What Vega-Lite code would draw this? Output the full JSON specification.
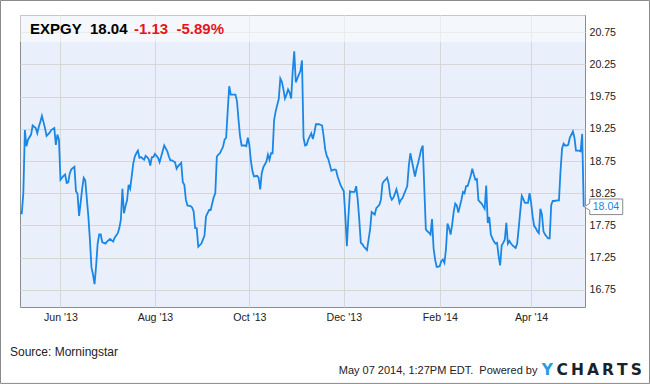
{
  "$schema": "https://vega.github.io/schema/vega-lite/v6.json",
  "width": 565,
  "height": 292,
  "autosize": {"type": "none"},
  "padding": {"left": 20, "top": 15, "right": 65, "bottom": 77},
  "background": "white",
  "config": {
    "view": {"fill": "#E9F0FB", "stroke": "#8c8c8c", "strokeWidth": 1},
    "font": "Liberation Sans"
  },
  "datasets": {
    "prices": [
      {"date": "2013-05-06", "price": 17.94}, {"date": "2013-05-07", "price": 17.94}, {"date": "2013-05-08", "price": 18.25},
      {"date": "2013-05-09", "price": 19.23}, {"date": "2013-05-10", "price": 18.98}, {"date": "2013-05-11", "price": 19.08},
      {"date": "2013-05-13", "price": 19.16}, {"date": "2013-05-14", "price": 19.30}, {"date": "2013-05-16", "price": 19.26},
      {"date": "2013-05-17", "price": 19.18}, {"date": "2013-05-18", "price": 19.28}, {"date": "2013-05-19", "price": 19.36},
      {"date": "2013-05-20", "price": 19.45}, {"date": "2013-05-22", "price": 19.26}, {"date": "2013-05-23", "price": 19.14},
      {"date": "2013-05-25", "price": 19.19}, {"date": "2013-05-26", "price": 19.23}, {"date": "2013-05-28", "price": 19.26},
      {"date": "2013-05-29", "price": 19.00}, {"date": "2013-05-30", "price": 19.16}, {"date": "2013-05-31", "price": 19.08},
      {"date": "2013-06-01", "price": 18.46}, {"date": "2013-06-02", "price": 18.49}, {"date": "2013-06-03", "price": 18.52},
      {"date": "2013-06-04", "price": 18.54}, {"date": "2013-06-05", "price": 18.41}, {"date": "2013-06-06", "price": 18.42},
      {"date": "2013-06-07", "price": 18.56}, {"date": "2013-06-08", "price": 18.62}, {"date": "2013-06-10", "price": 18.66},
      {"date": "2013-06-11", "price": 18.28}, {"date": "2013-06-12", "price": 18.24}, {"date": "2013-06-13", "price": 17.90},
      {"date": "2013-06-14", "price": 18.10}, {"date": "2013-06-15", "price": 18.32}, {"date": "2013-06-16", "price": 18.49},
      {"date": "2013-06-17", "price": 18.45}, {"date": "2013-06-19", "price": 17.89}, {"date": "2013-06-20", "price": 17.53},
      {"date": "2013-06-21", "price": 17.10}, {"date": "2013-06-22", "price": 16.99}, {"date": "2013-06-23", "price": 16.84},
      {"date": "2013-06-24", "price": 17.12}, {"date": "2013-06-25", "price": 17.47}, {"date": "2013-06-26", "price": 17.61},
      {"date": "2013-06-27", "price": 17.61}, {"date": "2013-06-28", "price": 17.49}, {"date": "2013-06-29", "price": 17.48},
      {"date": "2013-06-30", "price": 17.47}, {"date": "2013-07-01", "price": 17.50}, {"date": "2013-07-03", "price": 17.54},
      {"date": "2013-07-05", "price": 17.50}, {"date": "2013-07-06", "price": 17.56}, {"date": "2013-07-08", "price": 17.63},
      {"date": "2013-07-09", "price": 17.71}, {"date": "2013-07-10", "price": 17.84}, {"date": "2013-07-11", "price": 18.32},
      {"date": "2013-07-12", "price": 17.94}, {"date": "2013-07-13", "price": 18.05}, {"date": "2013-07-14", "price": 18.14},
      {"date": "2013-07-15", "price": 18.38}, {"date": "2013-07-16", "price": 18.32}, {"date": "2013-07-17", "price": 18.51},
      {"date": "2013-07-18", "price": 18.71}, {"date": "2013-07-19", "price": 18.82}, {"date": "2013-07-20", "price": 18.87},
      {"date": "2013-07-21", "price": 18.91}, {"date": "2013-07-22", "price": 18.80}, {"date": "2013-07-23", "price": 18.81},
      {"date": "2013-07-25", "price": 18.77}, {"date": "2013-07-26", "price": 18.83}, {"date": "2013-07-27", "price": 18.81},
      {"date": "2013-07-28", "price": 18.78}, {"date": "2013-07-29", "price": 18.68}, {"date": "2013-07-30", "price": 18.81},
      {"date": "2013-07-31", "price": 18.81}, {"date": "2013-08-01", "price": 18.86}, {"date": "2013-08-03", "price": 18.80},
      {"date": "2013-08-04", "price": 18.73}, {"date": "2013-08-06", "price": 18.90}, {"date": "2013-08-07", "price": 18.99},
      {"date": "2013-08-09", "price": 18.90}, {"date": "2013-08-10", "price": 18.82}, {"date": "2013-08-11", "price": 18.76},
      {"date": "2013-08-12", "price": 18.76}, {"date": "2013-08-14", "price": 18.73}, {"date": "2013-08-15", "price": 18.63},
      {"date": "2013-08-16", "price": 18.67}, {"date": "2013-08-18", "price": 18.72}, {"date": "2013-08-19", "price": 18.42},
      {"date": "2013-08-20", "price": 18.38}, {"date": "2013-08-21", "price": 18.15}, {"date": "2013-08-22", "price": 18.06},
      {"date": "2013-08-24", "price": 18.05}, {"date": "2013-08-25", "price": 18.03}, {"date": "2013-08-26", "price": 17.97},
      {"date": "2013-08-27", "price": 17.71}, {"date": "2013-08-28", "price": 17.71}, {"date": "2013-08-29", "price": 17.42},
      {"date": "2013-08-31", "price": 17.47}, {"date": "2013-09-01", "price": 17.53}, {"date": "2013-09-02", "price": 17.59},
      {"date": "2013-09-03", "price": 17.89}, {"date": "2013-09-05", "price": 17.99}, {"date": "2013-09-06", "price": 17.99},
      {"date": "2013-09-07", "price": 18.09}, {"date": "2013-09-08", "price": 18.19}, {"date": "2013-09-09", "price": 18.25},
      {"date": "2013-09-10", "price": 18.82}, {"date": "2013-09-11", "price": 18.85}, {"date": "2013-09-12", "price": 18.87},
      {"date": "2013-09-14", "price": 18.97}, {"date": "2013-09-15", "price": 19.08}, {"date": "2013-09-16", "price": 19.11},
      {"date": "2013-09-17", "price": 19.52}, {"date": "2013-09-18", "price": 19.91}, {"date": "2013-09-19", "price": 19.78},
      {"date": "2013-09-20", "price": 19.78}, {"date": "2013-09-21", "price": 19.78}, {"date": "2013-09-22", "price": 19.78},
      {"date": "2013-09-23", "price": 19.68}, {"date": "2013-09-24", "price": 19.39}, {"date": "2013-09-25", "price": 19.13},
      {"date": "2013-09-26", "price": 18.99}, {"date": "2013-09-28", "price": 18.99}, {"date": "2013-09-29", "price": 18.98},
      {"date": "2013-09-30", "price": 19.11}, {"date": "2013-10-01", "price": 19.00}, {"date": "2013-10-02", "price": 18.75},
      {"date": "2013-10-03", "price": 18.59}, {"date": "2013-10-04", "price": 18.51}, {"date": "2013-10-06", "price": 18.52},
      {"date": "2013-10-07", "price": 18.49}, {"date": "2013-10-08", "price": 18.31}, {"date": "2013-10-09", "price": 18.56},
      {"date": "2013-10-10", "price": 18.65}, {"date": "2013-10-12", "price": 18.74}, {"date": "2013-10-13", "price": 18.85},
      {"date": "2013-10-14", "price": 18.77}, {"date": "2013-10-15", "price": 18.87}, {"date": "2013-10-16", "price": 18.87},
      {"date": "2013-10-17", "price": 19.39}, {"date": "2013-10-18", "price": 19.52}, {"date": "2013-10-19", "price": 19.62},
      {"date": "2013-10-20", "price": 19.71}, {"date": "2013-10-21", "price": 20.03}, {"date": "2013-10-22", "price": 19.98},
      {"date": "2013-10-23", "price": 19.86}, {"date": "2013-10-24", "price": 19.72}, {"date": "2013-10-25", "price": 19.78},
      {"date": "2013-10-26", "price": 19.86}, {"date": "2013-10-27", "price": 19.81}, {"date": "2013-10-28", "price": 19.72},
      {"date": "2013-10-29", "price": 20.14}, {"date": "2013-10-30", "price": 20.45}, {"date": "2013-10-31", "price": 19.97},
      {"date": "2013-11-01", "price": 20.03}, {"date": "2013-11-03", "price": 20.15}, {"date": "2013-11-04", "price": 20.31},
      {"date": "2013-11-05", "price": 19.11}, {"date": "2013-11-06", "price": 18.99}, {"date": "2013-11-07", "price": 19.00},
      {"date": "2013-11-08", "price": 19.08}, {"date": "2013-11-10", "price": 19.18}, {"date": "2013-11-11", "price": 19.09},
      {"date": "2013-11-12", "price": 19.19}, {"date": "2013-11-13", "price": 19.32}, {"date": "2013-11-15", "price": 19.32},
      {"date": "2013-11-17", "price": 19.30}, {"date": "2013-11-18", "price": 19.13}, {"date": "2013-11-19", "price": 18.93},
      {"date": "2013-11-20", "price": 18.83}, {"date": "2013-11-21", "price": 18.78}, {"date": "2013-11-22", "price": 18.69},
      {"date": "2013-11-23", "price": 18.60}, {"date": "2013-11-25", "price": 18.62}, {"date": "2013-11-26", "price": 18.61},
      {"date": "2013-11-27", "price": 18.51}, {"date": "2013-11-28", "price": 18.44}, {"date": "2013-11-29", "price": 18.37},
      {"date": "2013-12-01", "price": 18.28}, {"date": "2013-12-02", "price": 17.89}, {"date": "2013-12-03", "price": 17.43},
      {"date": "2013-12-04", "price": 17.89}, {"date": "2013-12-05", "price": 18.28}, {"date": "2013-12-06", "price": 18.27},
      {"date": "2013-12-08", "price": 18.27}, {"date": "2013-12-09", "price": 18.36}, {"date": "2013-12-10", "price": 18.15},
      {"date": "2013-12-11", "price": 17.84}, {"date": "2013-12-12", "price": 17.48}, {"date": "2013-12-13", "price": 17.46},
      {"date": "2013-12-14", "price": 17.42}, {"date": "2013-12-16", "price": 17.37}, {"date": "2013-12-17", "price": 17.53},
      {"date": "2013-12-18", "price": 17.69}, {"date": "2013-12-19", "price": 17.96}, {"date": "2013-12-20", "price": 17.94},
      {"date": "2013-12-21", "price": 17.92}, {"date": "2013-12-22", "price": 18.02}, {"date": "2013-12-24", "price": 18.07},
      {"date": "2013-12-25", "price": 18.15}, {"date": "2013-12-26", "price": 18.40}, {"date": "2013-12-27", "price": 18.44},
      {"date": "2013-12-28", "price": 18.46}, {"date": "2013-12-29", "price": 18.49}, {"date": "2013-12-30", "price": 18.40},
      {"date": "2013-12-31", "price": 18.21}, {"date": "2014-01-01", "price": 18.15}, {"date": "2014-01-02", "price": 18.18},
      {"date": "2014-01-03", "price": 18.24}, {"date": "2014-01-04", "price": 18.31}, {"date": "2014-01-05", "price": 18.22},
      {"date": "2014-01-06", "price": 18.10}, {"date": "2014-01-07", "price": 18.15}, {"date": "2014-01-08", "price": 18.18},
      {"date": "2014-01-09", "price": 18.24}, {"date": "2014-01-10", "price": 18.30}, {"date": "2014-01-11", "price": 18.36},
      {"date": "2014-01-12", "price": 18.67}, {"date": "2014-01-13", "price": 18.87}, {"date": "2014-01-14", "price": 18.75},
      {"date": "2014-01-16", "price": 18.51}, {"date": "2014-01-17", "price": 18.63}, {"date": "2014-01-18", "price": 18.72},
      {"date": "2014-01-19", "price": 18.82}, {"date": "2014-01-20", "price": 18.93}, {"date": "2014-01-21", "price": 18.99},
      {"date": "2014-01-23", "price": 17.69}, {"date": "2014-01-24", "price": 17.66}, {"date": "2014-01-25", "price": 17.64},
      {"date": "2014-01-26", "price": 17.61}, {"date": "2014-01-27", "price": 17.85}, {"date": "2014-01-28", "price": 17.40},
      {"date": "2014-01-29", "price": 17.22}, {"date": "2014-01-30", "price": 17.11}, {"date": "2014-01-31", "price": 17.11},
      {"date": "2014-02-01", "price": 17.12}, {"date": "2014-02-02", "price": 17.20}, {"date": "2014-02-03", "price": 17.22},
      {"date": "2014-02-04", "price": 17.17}, {"date": "2014-02-05", "price": 17.38}, {"date": "2014-02-06", "price": 17.78},
      {"date": "2014-02-07", "price": 17.71}, {"date": "2014-02-08", "price": 17.61}, {"date": "2014-02-09", "price": 17.76},
      {"date": "2014-02-10", "price": 17.96}, {"date": "2014-02-11", "price": 18.09}, {"date": "2014-02-12", "price": 18.06},
      {"date": "2014-02-13", "price": 17.95}, {"date": "2014-02-14", "price": 18.05}, {"date": "2014-02-15", "price": 18.15},
      {"date": "2014-02-16", "price": 18.27}, {"date": "2014-02-17", "price": 18.25}, {"date": "2014-02-18", "price": 18.36},
      {"date": "2014-02-19", "price": 18.36}, {"date": "2014-02-20", "price": 18.44}, {"date": "2014-02-21", "price": 18.52},
      {"date": "2014-02-22", "price": 18.63}, {"date": "2014-02-23", "price": 18.54}, {"date": "2014-02-24", "price": 18.46},
      {"date": "2014-02-25", "price": 18.47}, {"date": "2014-02-26", "price": 18.14}, {"date": "2014-02-28", "price": 18.09},
      {"date": "2014-03-01", "price": 18.05}, {"date": "2014-03-02", "price": 18.01}, {"date": "2014-03-03", "price": 18.37},
      {"date": "2014-03-04", "price": 17.79}, {"date": "2014-03-05", "price": 17.88}, {"date": "2014-03-06", "price": 17.61},
      {"date": "2014-03-07", "price": 17.55}, {"date": "2014-03-08", "price": 17.50}, {"date": "2014-03-09", "price": 17.47},
      {"date": "2014-03-10", "price": 17.48}, {"date": "2014-03-11", "price": 17.28}, {"date": "2014-03-12", "price": 17.13},
      {"date": "2014-03-13", "price": 17.44}, {"date": "2014-03-14", "price": 17.48}, {"date": "2014-03-15", "price": 17.53},
      {"date": "2014-03-16", "price": 17.79}, {"date": "2014-03-17", "price": 17.47}, {"date": "2014-03-18", "price": 17.51},
      {"date": "2014-03-19", "price": 17.47}, {"date": "2014-03-20", "price": 17.44}, {"date": "2014-03-22", "price": 17.40},
      {"date": "2014-03-23", "price": 17.47}, {"date": "2014-03-24", "price": 17.71}, {"date": "2014-03-25", "price": 17.97},
      {"date": "2014-03-26", "price": 18.21}, {"date": "2014-03-27", "price": 18.16}, {"date": "2014-03-28", "price": 18.10},
      {"date": "2014-03-30", "price": 18.10}, {"date": "2014-03-31", "price": 18.25}, {"date": "2014-04-01", "price": 18.10},
      {"date": "2014-04-02", "price": 17.89}, {"date": "2014-04-03", "price": 17.74}, {"date": "2014-04-04", "price": 17.71},
      {"date": "2014-04-05", "price": 17.66}, {"date": "2014-04-06", "price": 17.63}, {"date": "2014-04-07", "price": 18.01},
      {"date": "2014-04-08", "price": 17.92}, {"date": "2014-04-09", "price": 17.66}, {"date": "2014-04-10", "price": 17.61},
      {"date": "2014-04-11", "price": 17.58}, {"date": "2014-04-12", "price": 17.55}, {"date": "2014-04-13", "price": 17.55},
      {"date": "2014-04-14", "price": 18.07}, {"date": "2014-04-15", "price": 18.13}, {"date": "2014-04-16", "price": 18.13},
      {"date": "2014-04-18", "price": 18.14}, {"date": "2014-04-19", "price": 18.14}, {"date": "2014-04-20", "price": 18.59},
      {"date": "2014-04-21", "price": 18.94}, {"date": "2014-04-22", "price": 19.02}, {"date": "2014-04-23", "price": 18.99},
      {"date": "2014-04-24", "price": 18.99}, {"date": "2014-04-25", "price": 19.00}, {"date": "2014-04-26", "price": 19.11},
      {"date": "2014-04-28", "price": 19.21}, {"date": "2014-04-29", "price": 19.11}, {"date": "2014-04-30", "price": 18.91},
      {"date": "2014-05-01", "price": 18.91}, {"date": "2014-05-02", "price": 18.91}, {"date": "2014-05-03", "price": 18.90},
      {"date": "2014-05-04", "price": 19.17}, {"date": "2014-05-05", "price": 18.04}
    ]
  },
  "layer": [
    {
      "data": {"name": "prices"},
      "mark": {"type": "line", "color": "#1a87e6", "strokeWidth": 1.8},
      "encoding": {
        "x": {
          "field": "date",
          "type": "temporal",
          "scale": {
            "type": "utc",
            "domain": [
              {"year": 2013, "month": 5, "date": 5, "hours": 20, "minutes": 10, "utc": true},
              {"year": 2014, "month": 5, "date": 5, "hours": 19, "minutes": 41, "utc": true}
            ]
          },
          "axis": {
            "values": [
              {"year": 2013, "month": 6, "date": 1, "utc": true},
              {"year": 2013, "month": 8, "date": 1, "utc": true},
              {"year": 2013, "month": 10, "date": 1, "utc": true},
              {"year": 2013, "month": 12, "date": 1, "utc": true},
              {"year": 2014, "month": 2, "date": 1, "utc": true},
              {"year": 2014, "month": 4, "date": 1, "utc": true}
            ],
            "tickCount": 30,
            "format": "%b '%y",
            "title": null,
            "grid": true,
            "gridColor": "#d6d6d6",
            "ticks": false,
            "domain": false,
            "labelPadding": 5,
            "labelFont": "Liberation Sans",
            "labelFontSize": 10.6,
            "labelColor": "#222222",
            "labelFlush": false,
            "labelOverlap": false
          }
        },
        "y": {
          "field": "price",
          "type": "quantitative",
          "scale": {"domain": [16.486, 21.014], "nice": false, "zero": false},
          "axis": {
            "orient": "right",
            "values": [16.75, 17.25, 17.75, 18.25, 18.75, 19.25, 19.75, 20.25, 20.75],
            "tickCount": 30,
            "format": ".2f",
            "title": null,
            "grid": true,
            "gridColor": "#d6d6d6",
            "ticks": false,
            "domain": false,
            "labelPadding": 4,
            "labelFont": "Liberation Sans",
            "labelFontSize": 10.6,
            "labelColor": "#222222",
            "labelOverlap": false
          }
        }
      }
    },
    {
      "data": {"values": [{}]},
      "mark": {"type": "rect", "fill": "white", "opacity": 0.5},
      "encoding": {"y": {"datum": 21.014}, "y2": {"datum": 20.595}}
    },
    {
      "data": {"values": [{}]},
      "mark": {"type": "rect", "fill": null, "fillOpacity": 0, "stroke": "#8a8a8a", "strokeWidth": 1},
      "encoding": {
        "x": {"datum": {"year": 2013, "month": 4, "date": 23, "hours": 6, "utc": true}, "type": "temporal"},
        "x2": {"datum": {"year": 2014, "month": 6, "date": 16, "hours": 12, "utc": true}},
        "y": {"datum": 21.239},
        "y2": {"datum": 15.301}
      }
    },
    {
      "data": {"values": [{}]},
      "mark": {"type": "text", "text": "EXPGY\u00a0\u00a018.04", "font": "Liberation Sans", "fontWeight": "bold", "fontSize": 15, "color": "#000000", "align": "left", "baseline": "alphabetic"},
      "encoding": {
        "x": {"datum": {"year": 2013, "month": 5, "date": 12, "hours": 7, "utc": true}, "type": "temporal"},
        "y": {"datum": 20.72}
      }
    },
    {
      "data": {"values": [{}]},
      "mark": {"type": "text", "text": "-1.13\u00a0\u00a0-5.89%", "font": "Liberation Sans", "fontWeight": "bold", "fontSize": 15, "color": "#e8151b", "align": "left", "baseline": "alphabetic"},
      "encoding": {
        "x": {"datum": {"year": 2013, "month": 7, "date": 18, "hours": 11, "minutes": 30, "utc": true}, "type": "temporal"},
        "y": {"datum": 20.72}
      }
    },
    {
      "data": {"values": [{}]},
      "mark": {"type": "point", "shape": "M0.05,0L0.6,-0.35L0.6,-0.78L3.9,-0.78L3.9,0.78L0.6,0.78L0.6,0.35Z", "size": 400, "filled": true, "fill": "white", "fillOpacity": 1, "stroke": "#8a8a8a", "strokeWidth": 1, "opacity": 1},
      "encoding": {
        "x": {"datum": {"year": 2014, "month": 5, "date": 5, "utc": true}, "type": "temporal"},
        "y": {"datum": 18.04}
      }
    },
    {
      "data": {"values": [{}]},
      "mark": {"type": "text", "text": "18.04", "font": "Liberation Sans", "fontSize": 10.6, "color": "#1a87e6", "align": "left", "baseline": "middle", "dx": 9},
      "encoding": {
        "x": {"datum": {"year": 2014, "month": 5, "date": 5, "utc": true}, "type": "temporal"},
        "y": {"datum": 18.04}
      }
    },
    {
      "data": {"values": [{}]},
      "mark": {"type": "text", "text": "Source: Morningstar", "font": "Liberation Sans", "fontSize": 12, "color": "#222222", "align": "left", "baseline": "alphabetic"},
      "encoding": {
        "x": {"datum": {"year": 2013, "month": 4, "date": 29, "hours": 9, "utc": true}, "type": "temporal"},
        "y": {"datum": 15.719}
      }
    },
    {
      "data": {"values": [{}]},
      "mark": {"type": "text", "text": "May 07 2014, 1:27PM EDT.\u00a0 Powered by", "font": "Liberation Sans", "fontSize": 11, "color": "#222222", "align": "right", "baseline": "alphabetic"},
      "encoding": {
        "x": {"datum": {"year": 2014, "month": 4, "date": 5, "hours": 2, "minutes": 30, "utc": true}, "type": "temporal"},
        "y": {"datum": 15.448}
      }
    },
    {
      "data": {"values": [{}]},
      "mark": {"type": "text", "text": "Y", "font": "DejaVu Sans", "fontWeight": "bold", "fontSize": 15.5, "color": "#2a9be6", "align": "left", "baseline": "alphabetic"},
      "encoding": {
        "x": {"datum": {"year": 2014, "month": 4, "date": 7, "hours": 20, "minutes": 30, "utc": true}, "type": "temporal"},
        "y": {"datum": 15.425}
      }
    },
    {
      "data": {"values": [{}]},
      "mark": {"type": "text", "text": "C\u2009H\u2009A\u2009R\u2009T\u2009S", "font": "DejaVu Sans", "fontWeight": "bold", "fontSize": 15.5, "color": "#18222c", "align": "right", "baseline": "alphabetic"},
      "encoding": {
        "x": {"datum": {"year": 2014, "month": 6, "date": 11, "hours": 14, "utc": true}, "type": "temporal"},
        "y": {"datum": 15.425}
      }
    }
  ]
}
